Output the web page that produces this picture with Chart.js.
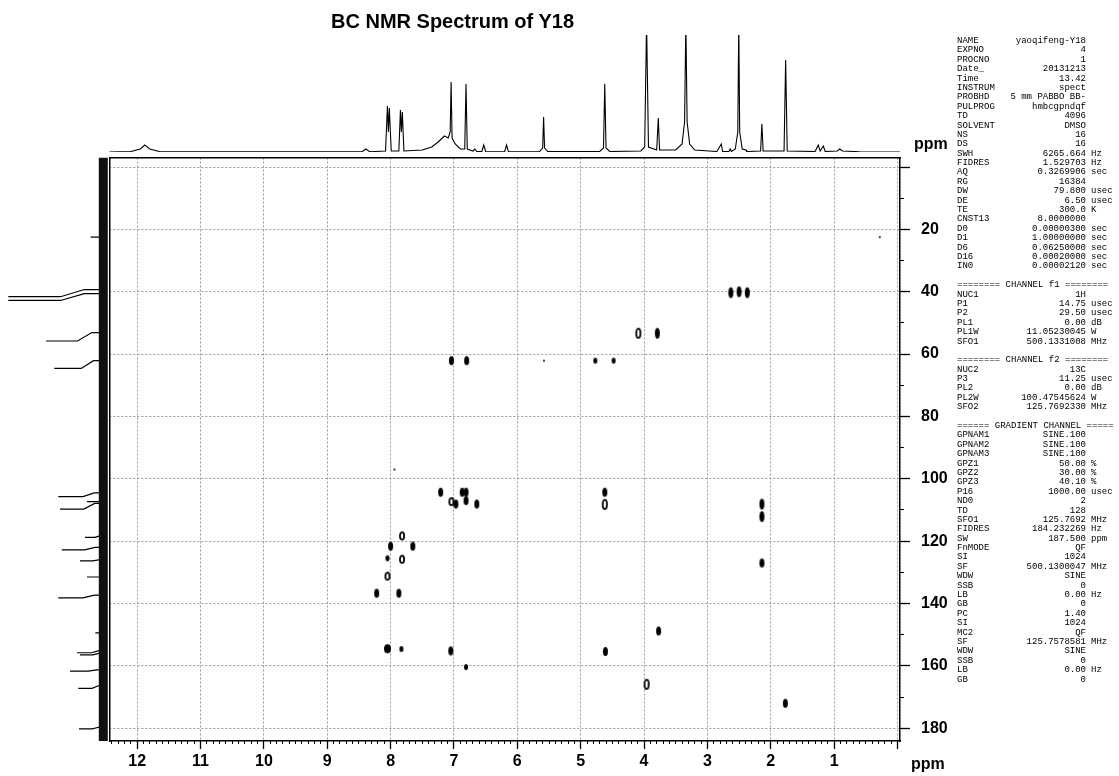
<!DOCTYPE html>
<html><head><meta charset="utf-8">
<script src="https://cdn.jsdelivr.net/npm/chart.js@4.4.1/dist/chart.umd.min.js"></script>
<style>
html,body{margin:0;padding:0;background:#fff;width:1119px;height:776px;overflow:hidden;}
body{position:relative;font-family:"Liberation Sans",Arial,sans-serif;}
canvas{position:absolute;left:0;top:0;}
#title{position:absolute;left:331px;top:11px;font:bold 20px "Liberation Sans";line-height:1;white-space:nowrap;color:#000;}
.ppm{position:absolute;font:bold 16px "Liberation Sans";line-height:1;color:#000;}
#params{position:absolute;left:957px;top:37px;width:162px;font:9px "Liberation Mono";color:#000;}
.row{position:relative;height:9.4px;line-height:9.4px;white-space:pre;}
.row .l{position:absolute;left:0;top:0;}
.row .v{position:absolute;right:33px;top:0;}
.row .u{position:absolute;left:134px;top:0;}
</style></head>
<body>
<canvas id="main" width="1119" height="776"></canvas>
<canvas id="top" width="1119" height="160"></canvas>
<canvas id="left" width="112" height="776"></canvas>
<div id="title">BC NMR Spectrum of Y18</div>
<div class="ppm" style="left:914px;top:136px;">ppm</div>
<div class="ppm" style="left:911px;top:756px;">ppm</div>
<div id="params"></div>
<script>
// ---------------- data ----------------
// 1D proton projection (top): chemical shift (ppm) and intensity
const topPpm = [12.44,12.1,11.95,11.88,11.8,11.65,11.0,8.45,8.39,8.33,8.08,8.05,8.035,8.02,7.99,7.87,7.845,7.83,7.815,7.79,7.5,7.35,7.25,7.15,7.09,7.06,7.045,7.03,6.98,6.90,6.83,6.81,6.79,6.70,6.67,6.64,6.56,6.53,6.50,6.20,6.17,6.14,5.65,5.60,5.585,5.57,5.52,4.70,4.64,4.62,4.60,4.54,4.05,3.99,3.96,3.93,3.80,3.775,3.755,3.50,3.40,3.36,3.34,3.32,3.28,3.20,2.85,2.78,2.76,2.66,2.64,2.62,2.56,2.52,2.505,2.49,2.45,2.39,2.38,2.16,2.14,2.12,1.79,1.765,1.74,1.30,1.25,1.22,1.17,1.14,0.95,0.91,0.87,0.60,-0.04];
const topInt = [0,0.5,3,7,3,0.5,0.3,0.3,3,0.3,1,46,20,44,1,1,42,20,40,1,2,5,10,16,14,20,70,14,8,3,3,68,3,1,3,0.5,0.5,7,0.5,0.3,7,0.3,0.5,4,35,4,0.5,0.5,4,68,4,0.5,1,5,130,5,2,34,2,2,8,30,130,30,8,2,0.5,8,0.5,0.5,3,0.5,3,20,130,20,3,2,0.5,1,28,1,1,92,1,0.5,7,1,6,0.5,1,3,1,0.3,0];

// 1D carbon projection (left): base shift, tip shift, length
const leftBase = [22.5,39.3,40.6,53.1,62.1,104.5,107.3,107.9,118.3,122.0,126.0,131.5,137.3,149.4,155.2,156.0,161.3,166.4,179.7];
const leftTip  = [22.5,41.6,42.8,55.8,64.6,105.7,107.3,109.7,118.8,122.8,126.3,131.5,138.2,149.4,155.8,156.5,161.7,167.2,180.2];
const leftLen  = [12.6,95,95,57.3,49,45,16.3,43.3,18.3,41.6,23.3,16.3,45,8,26.3,23.3,33.3,25,24.3];
const leftBandPpm = [-3.05,184.1];

// 2D cross peaks: proton shift (H) and carbon shift (C), grouped by contour look
const tallH = [2.63,2.50,2.37,3.79,2.14,2.14];
const tallC = [40.3,40.0,40.3,53.3,108.1,112.1];
const ringTallH = [4.09,3.96,4.62];
const ringTallC = [53.3,165.9,108.2];
const medH = [7.04,6.80,7.21,6.87,6.81,4.62,6.97,6.81,6.64,8.00,7.65,8.22,7.87,7.05,4.61,1.77,3.77,2.14];
const medC = [62.1,62.1,104.3,104.3,104.3,104.3,108.1,107.0,108.1,121.6,121.6,136.7,136.7,155.2,155.4,172.0,148.8,127.0];
const ringH = [7.04,7.82,7.82,8.05];
const ringC = [107.3,118.3,125.8,131.2];
const bigH = [8.05];
const bigC = [154.5];
const smallH = [4.77,4.48,8.05,6.81,7.83];
const smallC = [62.1,62.1,125.5,160.4,154.6];
const tinyH = [5.58,7.94,0.28];
const tinyC = [62.1,97.0,22.5];

// axis ticks
const xTickStep = 1, xMinorStep = 0.1, yTickStep = 20, yMinorStep = 10;

// acquisition parameters
const paramRows = [
 ["NAME","yaoqifeng-Y18",""],["EXPNO","4",""],["PROCNO","1",""],["Date_","20131213",""],["Time","13.42",""],
 ["INSTRUM","spect",""],["PROBHD","5 mm PABBO BB-",""],["PULPROG","hmbcgpndqf",""],["TD","4096",""],["SOLVENT","DMSO",""],
 ["NS","16",""],["DS","16",""],["SWH","6265.664","Hz"],["FIDRES","1.529703","Hz"],["AQ","0.3269906","sec"],
 ["RG","16384",""],["DW","79.800","usec"],["DE","6.50","usec"],["TE","300.0","K"],["CNST13","8.0000000",""],
 ["D0","0.00000300","sec"],["D1","1.00000000","sec"],["D6","0.06250000","sec"],["D16","0.00020000","sec"],["IN0","0.00002120","sec"],
 ["","",""],
 ["======== CHANNEL f1 ========","",""],["NUC1","1H",""],["P1","14.75","usec"],["P2","29.50","usec"],["PL1","0.00","dB"],
 ["PL1W","11.05230045","W"],["SFO1","500.1331008","MHz"],
 ["","",""],
 ["======== CHANNEL f2 ========","",""],["NUC2","13C",""],["P3","11.25","usec"],["PL2","0.00","dB"],["PL2W","100.47545624","W"],
 ["SFO2","125.7692330","MHz"],
 ["","",""],
 ["====== GRADIENT CHANNEL =====","",""],["GPNAM1","SINE.100",""],["GPNAM2","SINE.100",""],["GPNAM3","SINE.100",""],
 ["GPZ1","50.00","%"],["GPZ2","30.00","%"],["GPZ3","40.10","%"],["P16","1000.00","usec"],["ND0","2",""],["TD","128",""],
 ["SFO1","125.7692","MHz"],["FIDRES","184.232269","Hz"],["SW","187.500","ppm"],["FnMODE","QF",""],["SI","1024",""],
 ["SF","500.1300047","MHz"],["WDW","SINE",""],["SSB","0",""],["LB","0.00","Hz"],["GB","0",""],["PC","1.40",""],
 ["SI","1024",""],["MC2","QF",""],["SF","125.7578581","MHz"],["WDW","SINE",""],["SSB","0",""],["LB","0.00","Hz"],["GB","0",""]
];

// ---------------- rendering ----------------
const X_MIN = -0.04, X_MAX = 12.44, Y_MIN = -3.05, Y_MAX = 184.1;

const params = document.getElementById('params');
paramRows.forEach(r => {
  const d = document.createElement('div'); d.className = 'row';
  const l = document.createElement('span'); l.className = 'l'; l.textContent = r[0];
  const v = document.createElement('span'); v.className = 'v'; v.textContent = r[1];
  const u = document.createElement('span'); u.className = 'u'; u.textContent = r[2];
  d.appendChild(l); d.appendChild(v); d.appendChild(u); params.appendChild(d);
});

function contour(w, h, hollow) {
  const c = document.createElement('canvas');
  c.width = w + 2; c.height = h + 2;
  const g = c.getContext('2d');
  g.beginPath();
  if (hollow) {
    g.ellipse(c.width / 2, c.height / 2, w / 2 - 0.9, h / 2 - 0.9, 0, 0, Math.PI * 2);
    g.lineWidth = 1.8; g.strokeStyle = '#000'; g.stroke();
  } else {
    g.ellipse(c.width / 2, c.height / 2, w / 2, h / 2, 0, 0, Math.PI * 2);
    g.fillStyle = '#000'; g.fill();
  }
  return c;
}
const kinds = [
  {h: tallH, c: tallC, img: contour(5, 11, false)},
  {h: ringTallH, c: ringTallC, img: contour(6, 11, true)},
  {h: medH, c: medC, img: contour(5, 9, false)},
  {h: ringH, c: ringC, img: contour(6, 9, true)},
  {h: bigH, c: bigC, img: contour(7, 9, false)},
  {h: smallH, c: smallC, img: contour(4, 6, false)},
  {h: tinyH, c: tinyC, img: contour(2, 2, false)}
];

const tickFont = {family: 'Liberation Sans', size: 16, weight: 'bold'};
const gridGray = '#9a9a9a';

new Chart(document.getElementById('main'), {
  type: 'scatter',
  data: {datasets: kinds.map(k => ({
    data: k.h.map((h, i) => ({x: h, y: k.c[i]})),
    pointStyle: k.img, pointRadius: 3, pointHoverRadius: 3, showLine: false
  }))},
  options: {
    responsive: false, animation: false, devicePixelRatio: 1,
    layout: {padding: {left: 109.3, top: 157.5, right: 159, bottom: 0}},
    plugins: {legend: {display: false}, tooltip: {enabled: false}},
    scales: {
      x: {type: 'linear', axis: 'x', position: 'bottom', weight: 1, reverse: true, min: X_MIN, max: X_MAX,
        ticks: {stepSize: xTickStep, includeBounds: false, autoSkip: false, maxRotation: 0, color: '#000', font: tickFont, padding: 3,
          callback: v => v === 0 ? '' : String(v)},
        grid: {color: gridGray, lineWidth: 1, tickLength: 8, tickColor: '#000', tickWidth: 1.3},
        border: {display: true, color: '#000', width: 1.5, dash: [2, 2]},
        afterFit: s => { s.height = 35; }},
      xMinor: {type: 'linear', axis: 'x', position: 'bottom', weight: 0, reverse: true, min: X_MIN, max: X_MAX,
        ticks: {display: false, stepSize: xMinorStep, includeBounds: false, autoSkip: false},
        grid: {drawOnChartArea: false, tickLength: 3, tickColor: '#000', tickWidth: 1},
        border: {display: false},
        afterFit: s => { s.height = 0; }},
      y: {type: 'linear', axis: 'y', position: 'right', weight: 1, reverse: true, min: Y_MIN, max: Y_MAX,
        ticks: {stepSize: yTickStep, includeBounds: false, autoSkip: false, color: '#000', font: tickFont, padding: 11,
          callback: v => v === 0 ? '' : String(v)},
        grid: {color: gridGray, lineWidth: 1, tickLength: 10, tickColor: '#000', tickWidth: 1.3},
        border: {display: true, color: '#000', width: 1.5, dash: [2, 2]},
        afterFit: s => { s.width = 60; }},
      yMinor: {type: 'linear', axis: 'y', position: 'right', weight: 0, reverse: true, min: Y_MIN, max: Y_MAX,
        ticks: {display: false, stepSize: yMinorStep, includeBounds: false, autoSkip: false},
        grid: {drawOnChartArea: false, tickLength: 4, tickColor: '#000', tickWidth: 1},
        border: {display: false},
        afterFit: s => { s.width = 0; }},
      xTop: {type: 'linear', axis: 'x', position: 'top', min: 0, max: 1,
        ticks: {display: false}, grid: {display: false},
        border: {display: true, color: '#000', width: 1.5},
        afterFit: s => { s.height = 0; }},
      yLeft: {type: 'linear', axis: 'y', position: 'left', min: 0, max: 1,
        ticks: {display: false}, grid: {display: false},
        border: {display: true, color: '#000', width: 1.5},
        afterFit: s => { s.width = 0; }}
    }
  }
});

new Chart(document.getElementById('top'), {
  type: 'scatter',
  data: {datasets: [{
    data: topPpm.map((p, i) => ({x: p, y: topInt[i]})),
    showLine: true, borderColor: '#000', borderWidth: 1.1, pointRadius: 0, tension: 0
  }]},
  options: {
    responsive: false, animation: false, devicePixelRatio: 1,
    layout: {padding: {left: 109.3, right: 219, top: 35, bottom: 8}},
    plugins: {legend: {display: false}, tooltip: {enabled: false}},
    scales: {
      x: {type: 'linear', display: false, reverse: true, min: X_MIN, max: X_MAX},
      y: {type: 'linear', display: false, min: 0, max: 117}
    }
  }
});

const leftSets = [{
  data: leftBandPpm.map(p => ({x: 0, y: p})),
  showLine: true, borderColor: '#111', borderWidth: 9, pointRadius: 0
}].concat(leftBase.map((b, i) => ({
  data: [{x: 0, y: b}, {x: leftLen[i] * 0.2, y: b}, {x: leftLen[i] * 0.45, y: leftTip[i]}, {x: leftLen[i], y: leftTip[i]}],
  showLine: true, borderColor: '#000', borderWidth: 1.2, pointRadius: 0
})));

new Chart(document.getElementById('left'), {
  type: 'scatter',
  data: {datasets: leftSets},
  options: {
    responsive: false, animation: false, devicePixelRatio: 1,
    layout: {padding: {left: 0, right: 3.7, top: 157.5, bottom: 35}},
    plugins: {legend: {display: false}, tooltip: {enabled: false}},
    scales: {
      x: {type: 'linear', display: false, reverse: true, min: -5, max: 103.3},
      y: {type: 'linear', display: false, reverse: true, min: Y_MIN, max: Y_MAX}
    }
  }
});
</script>
</body></html>
